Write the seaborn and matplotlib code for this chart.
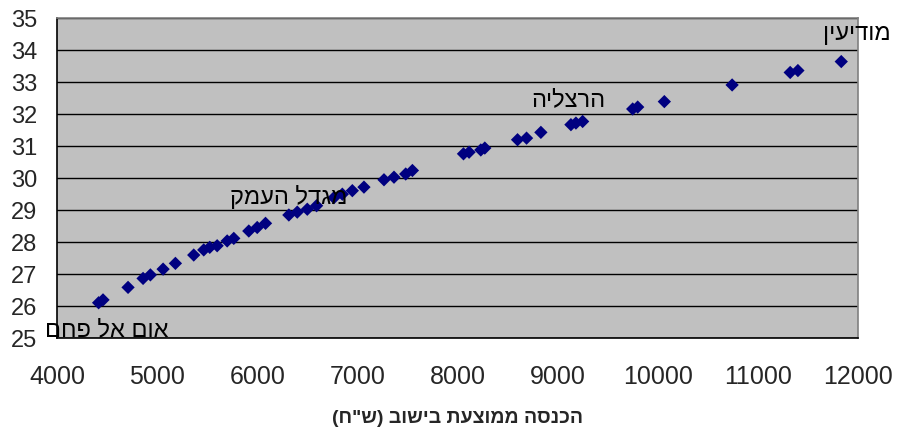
import matplotlib
matplotlib.use('Agg')
import matplotlib.pyplot as plt
import seaborn as sns
import pandas as pd

# הכנסה ממוצעת בישוב מול ציון - נקודות נקראו מהתמונה
income = [4416, 4460, 4710, 4860, 4933, 5060, 5183, 5366, 5466, 5526,
          5600, 5700, 5766, 5916, 6000, 6083, 6316, 6400, 6500, 6593,
          6766, 6850, 6950, 7066, 7266, 7366, 7483, 7550, 8060, 8116,
          8233, 8273, 8600, 8690, 8833, 9133, 9183, 9250, 9750, 9800,
          10066, 10743, 11323, 11400, 11833]
score = [26.11, 26.20, 26.59, 26.87, 26.98, 27.16, 27.34, 27.60, 27.76, 27.84,
         27.89, 28.04, 28.12, 28.35, 28.46, 28.59, 28.85, 28.94, 29.03, 29.14,
         29.39, 29.50, 29.61, 29.72, 29.95, 30.03, 30.13, 30.24, 30.76, 30.81,
         30.88, 30.94, 31.20, 31.25, 31.43, 31.67, 31.72, 31.77, 32.16, 32.22,
         32.39, 32.91, 33.30, 33.36, 33.64]

# שמות ישובים מסומנים (אינדקס הנקודה, שם, היסט בנקודות)
labels = [(0, 'אום אל פחם', (6, -20)),
          (16, 'מגדל העמק', (0, 13)),
          (35, 'הרצליה', (-2, 18)),
          (44, 'מודיעין', (11, 20))]

x_label = 'הכנסה ממוצעת בישוב (ש"ח)'


def rtl(s):
    # matplotlib לא מטפל בכיווניות - הופכים ידנית
    swap = {'(': ')', ')': '('}
    return ''.join(swap.get(c, c) for c in s[::-1])


df = pd.DataFrame({'income': income, 'score': score})

sns.set_style('white', {'axes.facecolor': '#C0C0C0'})
plt.rcParams['font.family'] = ['Liberation Sans', 'DejaVu Sans']

fig = plt.figure(figsize=(8.97, 4.29), dpi=100)
ax = fig.add_axes([0.0635, 0.2114, 0.893, 0.7466])

ax.yaxis.grid(True, color='black', linewidth=1.0)
ax.set_axisbelow(True)

sns.scatterplot(data=df, x='income', y='score', marker='D', s=46,
                color='#000080', edgecolor='none', ax=ax, zorder=3)

for i, name, off in labels:
    ax.annotate(rtl(name), (income[i], score[i]), xytext=off,
                textcoords='offset points', ha='center', va='center',
                fontsize=17, color='black', zorder=4, annotation_clip=False)

ax.set_xlim(4000, 12000)
ax.set_ylim(25, 35)
ax.set_xticks(range(4000, 12001, 1000))
ax.set_yticks(range(25, 36))
ax.tick_params(axis='both', direction='out', length=5, width=1,
               color='black')
ax.tick_params(axis='x', pad=14, labelsize=18)
ax.tick_params(axis='y', pad=9, labelsize=17)

ax.set_xlabel(rtl(x_label), fontsize=14, fontweight='bold', labelpad=15)
ax.set_ylabel('')

for side in ['left', 'bottom']:
    ax.spines[side].set_color('black')
    ax.spines[side].set_linewidth(1.2)
for side in ['top', 'right']:
    ax.spines[side].set_color('#808080')
    ax.spines[side].set_linewidth(1.2)

fig.savefig('out.png', dpi=100)
